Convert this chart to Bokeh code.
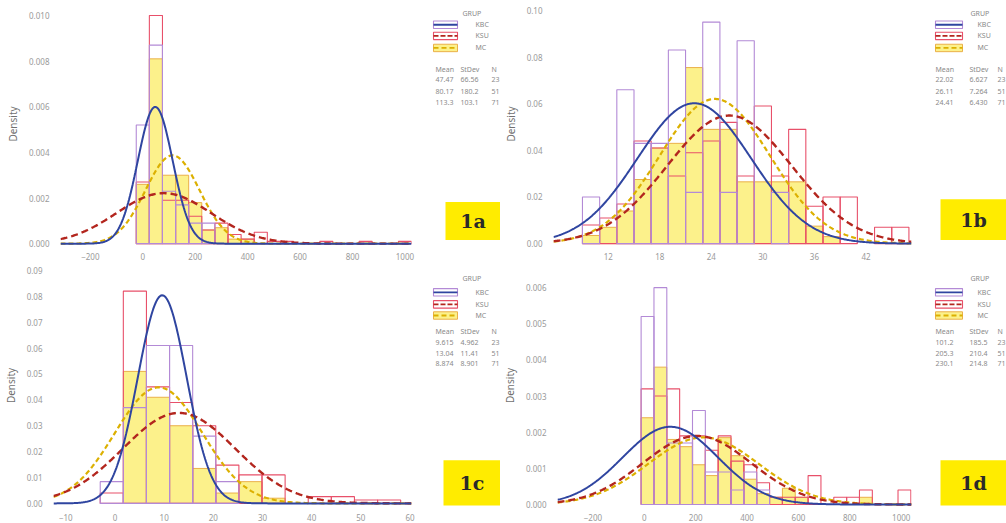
import numpy as np
from bokeh.plotting import figure
from bokeh.layouts import row, column
from bokeh.models import Range1d, FixedTicker, PrintfTickFormatter
from bokeh.core.properties import value
from bokeh.embed import file_html
from bokeh.resources import INLINE

GROUPS = ["KBC", "KSU", "MC"]
N_OBS = [23, 51, 71]
LEGEND_TITLE = "GRUP"

# ---------------- Panel 1a ----------------
bins_a = [0, 50, 100, 150, 200, 250, 300, 350, 400, 450, 500, 550, 600, 650, 700, 750, 800, 850, 900, 950, 1000]
width_a = 50
kbc_a = [0.0052, 0.0087, 0.0023, 0.0017, 0.0009, 0.0009, 0, 0, 0, 0, 0, 0, 0, 0, 0, 0, 0, 0, 0, 0, 0]
ksu_a = [0.0027, 0.0100, 0.0019, 0.0019, 0.0012, 0.0006, 0.0009, 0.0004, 0.0002, 0.0005, 0.0001, 0.0001, 0, 0, 0.0001, 0, 0, 0.0001, 0, 0, 0.0001]
mc_a = [0.0026, 0.0081, 0.0030, 0.0030, 0.0018, 0.0006, 0.0007, 0.0002, 0.0002, 0, 0, 0, 0, 0, 0, 0, 0, 0, 0, 0, 0]
mean_a = [47.47, 80.17, 113.3]
sd_a = [66.56, 180.2, 103.1]
xticks_a = [-200, 0, 200, 400, 600, 800, 1000]
yticks_a = [0.000, 0.002, 0.004, 0.006, 0.008, 0.010]

# ---------------- Panel 1b ----------------
bins_b = [10, 12, 14, 16, 18, 20, 22, 24, 26, 28, 30, 32, 34, 36, 38, 40, 42, 44, 46]
width_b = 2
kbc_b = [0.020, 0.000, 0.066, 0.043, 0.043, 0.083, 0.022, 0.095, 0.022, 0.087, 0.000, 0.022, 0.000, 0, 0, 0, 0, 0, 0]
ksu_b = [0.008, 0.011, 0.017, 0.044, 0.041, 0.029, 0.039, 0.044, 0.052, 0.029, 0.059, 0.029, 0.049, 0.016, 0.020, 0.020, 0.000, 0.007, 0.007]
mc_b = [0.0035, 0.007, 0.014, 0.0275, 0.041, 0.043, 0.0755, 0.049, 0.049, 0.0265, 0.0265, 0.0265, 0.0265, 0.0075, 0.003, 0, 0, 0, 0]
mean_b = [22.02, 26.11, 24.41]
sd_b = [6.627, 7.264, 6.430]
xticks_b = [12, 18, 24, 30, 36, 42]
yticks_b = [0.00, 0.02, 0.04, 0.06, 0.08, 0.10]

# ---------------- Panel 1c ----------------
bins_c = [-0.65, 4.05, 8.75, 13.45, 18.15, 22.85, 27.55, 32.25, 36.95, 41.65, 46.35, 51.05, 55.75]
width_c = 4.7
kbc_c = [0.0084, 0.037, 0.061, 0.061, 0.026, 0.0084, 0, 0, 0, 0, 0, 0, 0]
ksu_c = [0.004, 0.082, 0.045, 0.039, 0.030, 0.0148, 0.011, 0.011, 0, 0.0026, 0.0026, 0.0013, 0.0013]
mc_c = [0, 0.051, 0.041, 0.030, 0.0135, 0.004, 0.0084, 0.002, 0, 0, 0, 0, 0]
mean_c = [9.615, 13.04, 8.874]
sd_c = [4.962, 11.41, 8.901]
xticks_c = [-10, 0, 10, 20, 30, 40, 50, 60]
yticks_c = [0.00, 0.01, 0.02, 0.03, 0.04, 0.05, 0.06, 0.07, 0.08, 0.09]

# ---------------- Panel 1d ----------------
bins_d = [12.5, 62.5, 112.5, 162.5, 212.5, 262.5, 312.5, 362.5, 412.5, 462.5, 512.5, 562.5, 612.5, 662.5, 712.5, 762.5, 812.5, 862.5, 912.5, 962.5, 1012.5]
width_d = 50
kbc_d = [0.0052, 0.0060, 0.0017, 0.0017, 0.0026, 0.0009, 0.0009, 0.0004, 0.0009, 0.0004, 0, 0, 0, 0, 0, 0, 0, 0, 0, 0, 0]
ksu_d = [0.0032, 0.0030, 0.0032, 0.0019, 0.0019, 0.0015, 0.0019, 0.0012, 0.0011, 0.0006, 0.0002, 0.0002, 0.0002, 0.0008, 0, 0.0002, 0.0002, 0.0004, 0, 0, 0.0004]
mc_d = [0.0024, 0.0038, 0.0018, 0.0016, 0.0011, 0.0008, 0.00185, 0.00135, 0.0007, 0.0003, 0.0002, 0.00045, 0.0002, 0, 0, 0, 0, 0.0002, 0, 0, 0]
mean_d = [101.2, 205.3, 230.1]
sd_d = [185.5, 210.4, 214.8]
xticks_d = [-200, 0, 200, 400, 600, 800, 1000]
yticks_d = [0.000, 0.001, 0.002, 0.003, 0.004, 0.005, 0.006]

# ---------------- styles ----------------
FONT = "Noto Sans"
HIST_STYLE = {
    "KBC": dict(fill_color=None, line_color="#b38ad6", line_width=1.1),
    "KSU": dict(fill_color=None, line_color="#e8506a", line_width=1.1),
    "MC": dict(fill_color="#fcf07e", fill_alpha=0.9, line_color="#eab04a", line_width=1.0),
}
CURVE_STYLE = {
    "KBC": dict(line_color="#2f45a0", line_width=2.0, line_dash="solid"),
    "KSU": dict(line_color="#b3261e", line_width=2.4, line_dash="7 4"),
    "MC": dict(line_color="#dcb000", line_width=2.2, line_dash="5 3"),
}


def main_fig(W, H, xr, yr, xt, yt, yfmt, centers, bw, dens, means, sds, left_border):
    p = figure(width=W, height=H, x_range=Range1d(*xr), y_range=Range1d(*yr),
               toolbar_location=None, output_backend="svg",
               min_border_left=left_border, min_border_right=4,
               min_border_top=2, min_border_bottom=1)
    p.xgrid.visible = False
    p.ygrid.visible = False
    p.outline_line_color = None
    for ax in p.axis:
        ax.axis_line_color = None
        ax.major_tick_line_color = None
        ax.minor_tick_line_color = None
        ax.major_label_text_font_size = "8px"
        ax.major_label_text_color = "#9a9a9a"
        ax.major_label_text_font = FONT
    p.xaxis.ticker = FixedTicker(ticks=xt)
    p.xaxis.major_label_standoff = 1
    p.yaxis.ticker = FixedTicker(ticks=yt)
    p.yaxis.formatter = PrintfTickFormatter(format=yfmt)
    p.yaxis.major_label_standoff = 5
    p.yaxis.axis_label = "Density"
    p.yaxis.axis_label_text_font_size = "10px"
    p.yaxis.axis_label_text_font_style = "normal"
    p.yaxis.axis_label_text_color = "#707070"
    p.yaxis.axis_label_text_font = FONT
    p.yaxis.axis_label_standoff = 6

    c = np.array(centers, dtype=float)
    order = ["MC", "KSU", "KBC"]
    for g in order:
        d = np.array(dens[GROUPS.index(g)], dtype=float)
        m = d > 0
        p.quad(left=c[m] - bw / 2, right=c[m] + bw / 2, bottom=0, top=d[m], **HIST_STYLE[g])
    xs = np.linspace(xr[0], xr[1], 400)
    for g in order:
        i = GROUPS.index(g)
        mu, sd = means[i], sds[i]
        ys = np.exp(-0.5 * ((xs - mu) / sd) ** 2) / (sd * np.sqrt(2 * np.pi))
        p.line(xs, ys, **CURVE_STYLE[g])
    return p


def fmt4(v):
    if v >= 100:
        return "%.1f" % v
    if v >= 10:
        return "%.2f" % v
    return "%.3f" % v


def side_fig(W, H, badge, means, sds, ys, xs, badge_box):
    s = figure(width=W, height=H, x_range=Range1d(0, W), y_range=Range1d(0, H),
               toolbar_location=None, output_backend="svg", min_border=0,
               x_axis_location=None, y_axis_location=None)
    s.xgrid.visible = False
    s.ygrid.visible = False
    s.outline_line_color = None
    ty, e1, e2, e3, th, r1, r2, r3 = ys
    lx0, lx1, labx, titx, c1, c2, c3 = xs
    tx = dict(text_font=value(FONT), text_font_size=value("7px"), text_color="#8a8a8a",
              text_baseline="middle")
    s.text(x=[titx], y=[H - ty], text=[LEGEND_TITLE], text_align="left", **tx)
    for g, ey in zip(GROUPS, [e1, e2, e3]):
        yy = H - ey
        st = HIST_STYLE[g]
        s.quad(left=[lx0], right=[lx1], bottom=[yy - 4], top=[yy + 4], **st)
        cs = CURVE_STYLE[g]
        s.segment(x0=[lx0], y0=[yy], x1=[lx1], y1=[yy], line_color=cs["line_color"],
                  line_width=1.8, line_dash=cs["line_dash"] if cs["line_dash"] != "7 4" else "5 2")
        s.text(x=[labx], y=[yy], text=[g], text_align="left", **tx)
    s.text(x=[c1, c2, c3], y=[H - th] * 3, text=["Mean", "StDev", "N"], text_align="left", **tx)
    for i, ry in enumerate([r1, r2, r3]):
        s.text(x=[c1, c2, c3], y=[H - ry] * 3,
               text=[fmt4(means[i]), fmt4(sds[i]), str(N_OBS[i])], text_align="left", **tx)
    bx0, bx1, by0, by1 = badge_box
    s.quad(left=[bx0], right=[bx1], bottom=[H - by1], top=[H - by0],
           fill_color="#ffec00", line_color=None)
    s.text(x=[(bx0 + bx1) / 2], y=[H - (by0 + by1) / 2], text=[badge],
           text_align="center", text_baseline="middle",
           text_font=value("DejaVu Serif"), text_font_style="bold",
           text_font_size=value("19px"), text_color="#2a2a2a")
    return s


H_TOP, H_BOT = 262, 261
W_LM, W_LS, W_RM, W_RS = 415, 85, 415, 91

p1a = main_fig(W_LM, H_TOP, (-314, 1025), (-0.00008, 0.01057), xticks_a, yticks_a, "%.3f",
               bins_a, width_a, [kbc_a, ksu_a, mc_a], mean_a, sd_a, 60)
p1b = main_fig(W_RM, H_TOP, (5.63, 47.3), (-0.0008, 0.1034), xticks_b, yticks_b, "%.2f",
               bins_b, width_b, [kbc_b, ksu_b, mc_b], mean_b, sd_b, 53)
p1c = main_fig(W_LM, H_BOT, (-12.5, 60.3), (-0.0012, 0.0923), xticks_c, yticks_c, "%.2f",
               bins_c, width_c, [kbc_c, ksu_c, mc_c], mean_c, sd_c, 50)
p1d = main_fig(W_RM, H_BOT, (-338, 1040), (-0.000055, 0.00664), xticks_d, yticks_d, "%.3f",
               bins_d, width_d, [kbc_d, ksu_d, mc_d], mean_d, sd_d, 55)

top_ys = (12, 24, 36, 49, 72, 83, 96, 108)
bot_ys = (15, 30, 43, 55, 72, 84, 96, 107)
left_xs = (18, 42, 60, 47, 20, 45, 76)
right_xs = (20, 47, 62, 55, 20, 54, 82)
s1a = side_fig(W_LS, H_TOP, "1a", mean_a, sd_a, top_ys, left_xs, (30, 85, 215, 256))
s1b = side_fig(W_RS, H_TOP, "1b", mean_b, sd_b, top_ys, right_xs, (25, 91, 212, 256))
s1c = side_fig(W_LS, H_BOT, "1c", mean_c, sd_c, bot_ys, left_xs, (28, 85, 211, 260))
s1d = side_fig(W_RS, H_BOT, "1d", mean_d, sd_d, bot_ys, right_xs, (25, 91, 211, 260))

layout = column(row(p1a, s1a, p1b, s1b), row(p1c, s1c, p1d, s1d))
open("out.html", "w").write(file_html(layout, INLINE))
